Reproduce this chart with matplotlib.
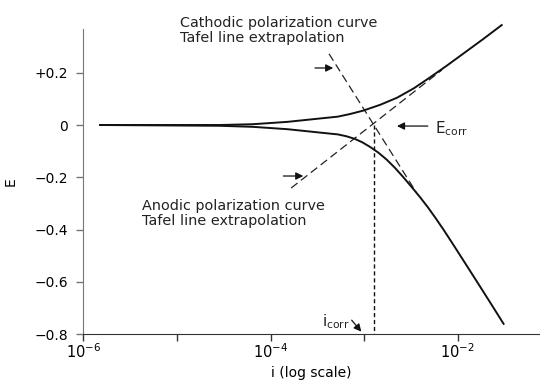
import matplotlib.pyplot as plt

# polarization curves: log10(i) against E
upper_logi = [-5.82, -4.54, -4.19, -3.82, -3.47, -3.28, -3.15, -3.01, -2.83, -2.65,
              -2.47, -2.30, -2.12, -1.94, -1.73, -1.53]
upper_E = [0.0, 0.0, 0.003, 0.012, 0.025, 0.032, 0.042, 0.055, 0.077, 0.104,
           0.140, 0.181, 0.226, 0.273, 0.328, 0.382]
lower_logi = [-5.82, -4.54, -4.19, -3.82, -3.47, -3.28, -3.19, -3.10, -3.02, -2.94,
              -2.85, -2.76, -2.67, -2.58, -2.49, -2.40, -2.32, -2.24, -2.15, -2.05,
              -1.93, -1.78, -1.64, -1.51]
lower_E = [0.0, -0.003, -0.007, -0.016, -0.029, -0.036, -0.043, -0.053, -0.066, -0.083,
           -0.105, -0.132, -0.164, -0.200, -0.238, -0.277, -0.314, -0.354, -0.401, -0.456,
           -0.523, -0.607, -0.686, -0.760]

# Tafel extrapolations, end points
cath_logi = [-3.375, -2.445]
cath_E = [0.272, -0.256]
anod_logi = [-3.78, -2.17]
anod_E = [-0.241, 0.210]

log_icorr = -2.894
E_corr = 0.0

ytick_vals = [0.2, 0.0, -0.2, -0.4, -0.6, -0.8]
ytick_labels = ['+0.2', '0', '\u22120.2', '\u22120.4', '\u22120.6', '\u22120.8']
xtick_exp = [-6, -5, -4, -3, -2]
xtick_labels = ['$10^{-6}$', '', '$10^{-4}$', '', '$10^{-2}$']


def p10(v):
    return [10.0 ** x for x in v] if isinstance(v, list) else 10.0 ** v


plt.rcParams['font.family'] = ['DejaVu Sans']
fig = plt.figure(figsize=(5.4, 3.81), dpi=100)
ax = fig.add_axes([0.1543, 0.1226, 0.8457, 0.8013])

ax.plot(p10(upper_logi), upper_E, color='#111111', lw=1.4, clip_on=False, zorder=3)
ax.plot(p10(lower_logi), lower_E, color='#111111', lw=1.4, clip_on=False, zorder=3)
ax.plot(p10(cath_logi), cath_E, color='#222222', lw=0.9, dashes=(6.5, 3.5))
ax.plot(p10(anod_logi), anod_E, color='#222222', lw=0.9, dashes=(6.5, 3.5))
ax.plot([p10(log_icorr)] * 2, [E_corr, -0.8], color='#111111', lw=1.0, dashes=(3, 2))

ax.set_xscale('log')
ax.set_xlim(1e-6, 10 ** -1.121)
ax.set_ylim(-0.8, 0.367)
ax.set_xticks([10.0 ** e for e in xtick_exp], labels=xtick_labels)
ax.xaxis.set_minor_locator(plt.NullLocator())
ax.set_yticks(ytick_vals, labels=ytick_labels)

for s in ['top', 'right']:
    ax.spines[s].set_visible(False)
ax.spines['left'].set_color('#777777')
ax.spines['bottom'].set_color('#333333')
ax.tick_params(axis='y', length=5, width=1, color='#777777', pad=6, labelsize=10)
ax.tick_params(axis='x', length=5, width=1, color='#333333', pad=1, labelsize=10.5)

ax.set_xlabel('i (log scale)', fontsize=10)
ax.xaxis.set_label_coords(0.5, -0.105)
ax.xaxis.label.set_va('top')
ax.set_ylabel('E', fontsize=10)
ax.yaxis.set_label_coords(-0.143, 0.5)

# labels and arrows
fs = 10.4
ax.text(p10(-4.967), 0.376, 'Cathodic polarization curve', fontsize=fs, color='#222222')
ax.text(p10(-4.967), 0.3185, 'Tafel line extrapolation', fontsize=fs, color='#222222')
ax.text(p10(-5.376), -0.325, 'Anodic polarization curve', fontsize=fs, color='#222222')
ax.text(p10(-5.376), -0.382, 'Tafel line extrapolation', fontsize=fs, color='#222222')

arrow = dict(arrowstyle='-|>', color='#111111', lw=0.9, mutation_scale=11,
             shrinkA=0, shrinkB=0)
ax.annotate('', xy=(p10(-3.33), 0.218), xytext=(p10(-3.525), 0.218), arrowprops=arrow)
ax.annotate('', xy=(p10(-3.65), -0.195), xytext=(p10(-3.863), -0.195), arrowprops=arrow)
ax.annotate('', xy=(p10(-2.649), -0.004), xytext=(p10(-2.32), -0.004), arrowprops=arrow)
ax.text(p10(-2.245), -0.031, r'E$_{\rm corr}$', fontsize=11, color='#222222')
ax.annotate('', xy=(p10(-3.03), -0.790), xytext=(p10(-3.133), -0.746), arrowprops=arrow)
ax.text(p10(-3.15), -0.769, r'i$_{\rm corr}$', fontsize=11, color='#222222', ha='right')

fig.savefig('out.png', dpi=100)
